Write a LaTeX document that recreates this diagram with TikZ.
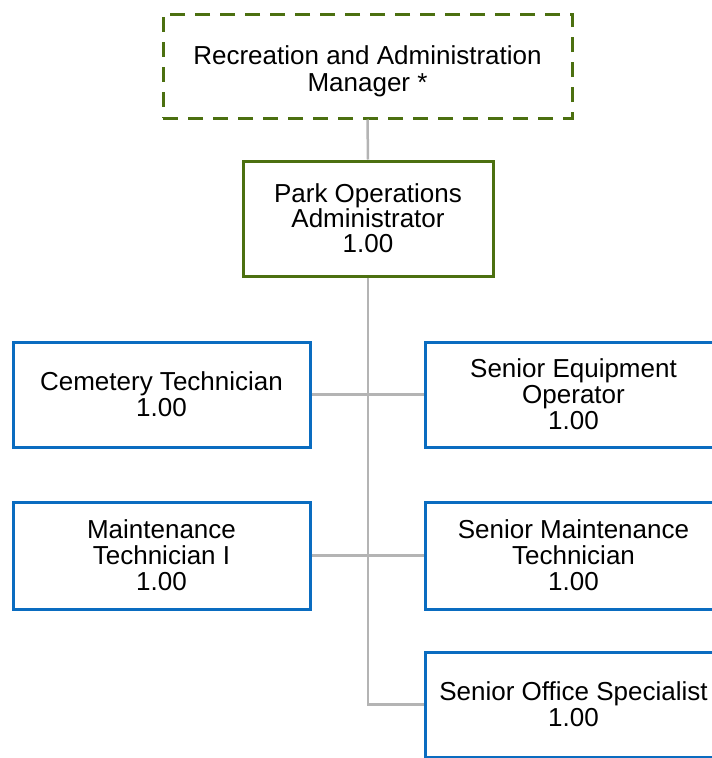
\documentclass[tikz,border=0pt]{standalone}
\usepackage{fontspec}
\setmainfont{Liberation Sans}
\definecolor{mgrgreen}{RGB}{76,112,16}
\definecolor{posblue}{RGB}{10,108,192}
\definecolor{conngray}{RGB}{180,180,180}

\begin{document}
\begin{tikzpicture}[x=1pt, y=-1pt, node distance=412pt,
  posbox/.style={draw=posblue, line width=3pt, fill=white, minimum width=297pt,
    minimum height=105pt, inner sep=2pt, align=center,
    font=\fontsize{26}{26}\selectfont},
  conn/.style={draw=conngray, line width=2.5pt}]
\useasboundingbox (0,0) rectangle (712,758);
% managers
\node(M) [posbox, draw=mgrgreen, dash pattern=on 15pt off 10pt, minimum width=409pt,
  minimum height=104pt, font=\fontsize{26}{27}\selectfont, text height=57pt,
  text depth=7pt] at (367.5,66) {Recreation and Administration\\Manager *};
\node(P) [posbox, draw=mgrgreen, minimum width=250pt, minimum height=115pt,
  font=\fontsize{26}{25}\selectfont] at (368,218.5) {Park Operations\\Administrator\\1.00};
% staff, left and right columns
\node(CT) [posbox] at (161.5,394.5) {Cemetery Technician\\1.00};
\node(MT) [posbox, minimum height=107pt] at (161.5,555.5) {Maintenance\\Technician I\\1.00};
\node(SEO) [posbox, right of=CT] {Senior Equipment\\Operator\\1.00};
\node(SMT) [posbox, minimum height=107pt, right of=MT] {Senior Maintenance\\Technician\\1.00};
\node(SOS) [posbox] at (573.5,704.5) {Senior Office Specialist\\1.00};
\coordinate(E) at (P.south |- SOS.west);
% connectors
\draw[conn] (M.south) -- (P.north);
\draw[conn] (P.south) -- (E) -- (SOS.west);
\draw[conn] (CT.east) -- (SEO.west);
\draw[conn] (MT.east) -- (SMT.west);
\end{tikzpicture}
\end{document}
